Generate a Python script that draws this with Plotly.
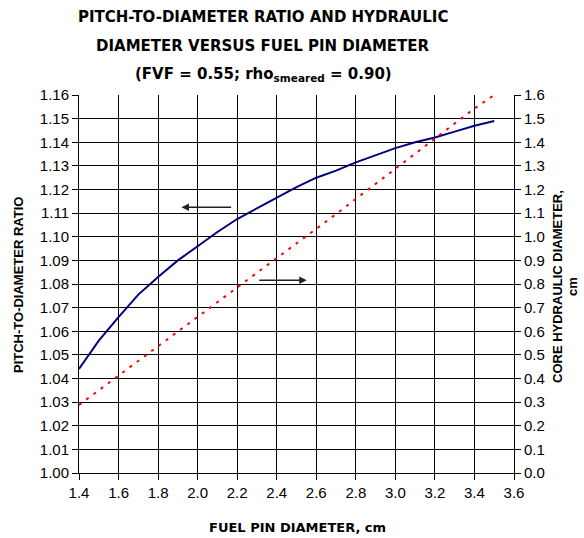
import plotly.graph_objects as go

# Data
pin_diameter = [1.4, 1.5, 1.6, 1.7, 1.8, 1.9, 2.0, 2.1, 2.2, 2.3, 2.4, 2.5,
                2.6, 2.7, 2.8, 2.9, 3.0, 3.1, 3.2, 3.3, 3.4, 3.5]
pitch_to_diameter = [1.044, 1.056, 1.066, 1.0755, 1.083, 1.090, 1.096, 1.102,
                     1.1075, 1.112, 1.1168, 1.121, 1.125, 1.128, 1.1315, 1.1345,
                     1.1375, 1.140, 1.142, 1.1445, 1.147, 1.149]
hydraulic_diameter = [0.288, 0.350, 0.411, 0.473, 0.535, 0.597, 0.659, 0.721,
                      0.784, 0.846, 0.908, 0.970, 1.032, 1.096, 1.160, 1.224,
                      1.288, 1.352, 1.416, 1.480, 1.543, 1.600]

title_lines = ["PITCH-TO-DIAMETER RATIO AND HYDRAULIC",
               "DIAMETER VERSUS FUEL PIN DIAMETER",
               "(FVF = 0.55; rho<sub>smeared</sub> = 0.90)"]

# arrow annotations (data coords): (tail_x, head_x, y on left axis)
left_arrow = (2.177, 1.918, 1.1125)
right_arrow = (2.304, 2.552, 1.0816)

TITLE_FONT = "Tahoma, DejaVu Sans, sans-serif"
TICK_FONT = "Arial, Liberation Sans, sans-serif"

W, H = 584, 538
L, R, T, B = 79, 70, 95, 65
PW, PH = W - L - R, H - T - B


def px_x(px):
    return (px - L) / PW


def px_y(py):
    return (H - B - py) / PH


fig = go.Figure()
fig.add_trace(go.Scatter(x=pin_diameter, y=pitch_to_diameter, mode="lines",
                         line=dict(color="#000080", width=2), yaxis="y",
                         showlegend=False))
fig.add_trace(go.Scatter(x=pin_diameter, y=hydraulic_diameter, mode="lines",
                         line=dict(color="#FF0000", width=2, dash="3px,6px"),
                         yaxis="y2", showlegend=False))

for tail, head, yy in (left_arrow, right_arrow):
    fig.add_annotation(x=head, y=yy, ax=tail, ay=yy, xref="x", yref="y",
                       axref="x", ayref="y", text="", showarrow=True,
                       arrowhead=2, arrowsize=1, arrowwidth=1.5,
                       arrowcolor="#222222")

for i, line in enumerate(title_lines):
    fig.add_annotation(text=line, xref="paper", yref="paper",
                       x=px_x(263), y=px_y(17 + 29 * i), xanchor="center",
                       yanchor="middle", showarrow=False,
                       font=dict(family=TITLE_FONT, size=15, color="black",
                                 weight="bold"))

# axis titles
fig.add_annotation(text="FUEL PIN DIAMETER, cm", xref="paper", yref="paper",
                   x=px_x(297), y=px_y(527), xanchor="center", yanchor="middle",
                   showarrow=False,
                   font=dict(family=TITLE_FONT, size=13, color="black", weight="bold"))
fig.add_annotation(text="PITCH-TO-DIAMETER RATIO", xref="paper", yref="paper",
                   x=px_x(18), y=px_y(285), xanchor="center", yanchor="middle",
                   textangle=-90, showarrow=False,
                   font=dict(family=TICK_FONT, size=13, color="black", weight="bold"))
fig.add_annotation(text="CORE HYDRAULIC DIAMETER,", xref="paper", yref="paper",
                   x=px_x(557), y=px_y(287), xanchor="center", yanchor="middle",
                   textangle=-90, showarrow=False,
                   font=dict(family=TICK_FONT, size=13, color="black", weight="bold"))
fig.add_annotation(text="cm", xref="paper", yref="paper",
                   x=px_x(572), y=px_y(287), xanchor="center", yanchor="middle",
                   textangle=-90, showarrow=False,
                   font=dict(family=TICK_FONT, size=13, color="black", weight="bold"))

axis_common = dict(showline=True, linecolor="black", linewidth=1,
                   ticks="outside", ticklen=6, tickcolor="black",
                   tickfont=dict(family=TICK_FONT, size=15, color="black"),
                   zeroline=False)

fig.update_layout(
    width=W, height=H,
    margin=dict(l=L, r=R, t=T, b=B),
    paper_bgcolor="white", plot_bgcolor="white",
    xaxis=dict(range=[1.4, 3.6], dtick=0.2, tick0=1.4, tickformat=".1f",
               showgrid=True, gridcolor="black", gridwidth=1, **axis_common),
    yaxis=dict(range=[1.0, 1.16], dtick=0.01, tick0=1.0, tickformat=".2f",
               showgrid=True, gridcolor="black", gridwidth=1, **axis_common),
    yaxis2=dict(range=[0, 1.6], dtick=0.1, tick0=0, tickformat=".1f",
                overlaying="y", side="right", showgrid=False, **axis_common),
)

fig.write_html("out.html")
